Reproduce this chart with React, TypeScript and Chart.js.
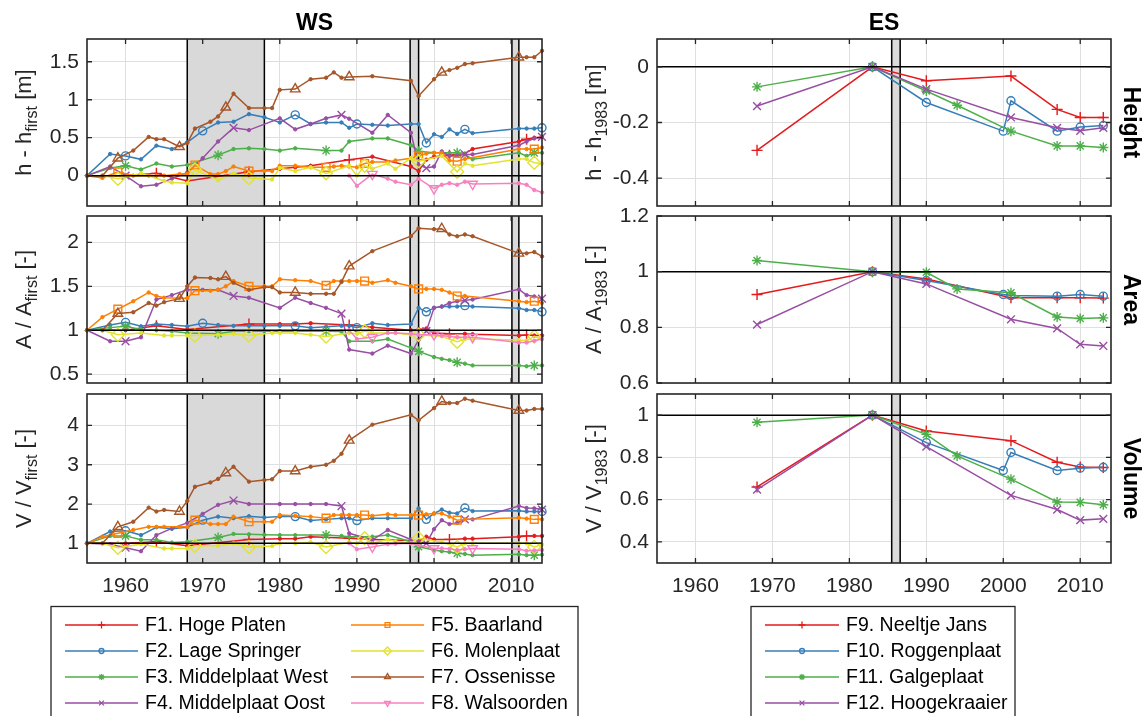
import React, { useEffect, useRef } from "react";
import { Chart, registerables } from "chart.js";
import { drawPoint } from "chart.js/helpers";

Chart.register(...registerables);

// ---------------- data ----------------
const X_TICKS = [1960, 1970, 1980, 1990, 2000, 2010];
const WS_BANDS = [[1968, 1978], [1996.9, 1998], [2010.1, 2011]];
const ES_BANDS = [[1985.5, 1986.6]];

const WS_NAMES = ["F1. Hoge Platen", "F2. Lage Springer", "F3. Middelplaat West", "F4. Middelplaat Oost", "F5. Baarland", "F6. Molenplaat", "F7. Ossenisse", "F8. Walsoorden"];
const ES_NAMES = ["F9. Neeltje Jans", "F10. Roggenplaat", "F11. Galgeplaat", "F12. Hoogekraaier"];

const F1_YEARS = [1955, 1960, 1964, 1968, 1976, 1980, 1982, 1984, 1989, 1992, 1997, 1998, 1999, 2000, 2002, 2004, 2005, 2011, 2012, 2013, 2014];
const F1_H = [0, 0.0, 0.03, -0.07, 0.05, 0.09, 0.11, 0.13, 0.21, 0.25, 0.12, 0.06, 0.21, 0.25, 0.27, 0.29, 0.35, 0.45, 0.48, 0.50, 0.51];
const F1_A = [1, 1.0, 1.05, 1.01, 1.07, 1.07, 1.07, 1.08, 1.06, 1.035, 1.0, 1.01, 1.02, 0.97, 0.96, 0.96, 0.955, 0.94, 0.945, 0.94, 0.94];
const F1_V = [1, 1.0, 1.04, 0.94, 1.10, 1.12, 1.12, 1.17, 1.13, 1.10, 1.07, 1.05, 1.17, 1.10, 1.10, 1.12, 1.12, 1.17, 1.19, 1.19, 1.19];
const F1_MARKS = [1964, 1976, 1989, 2002, 2012];

const F2_YEARS = [1955, 1958, 1960, 1962, 1964, 1966, 1968, 1970, 1972, 1974, 1976, 1978, 1980, 1982, 1984, 1986, 1988, 1989, 1990, 1992, 1994, 1997, 1998, 1999, 2000, 2001, 2002, 2003, 2004, 2005, 2011, 2012, 2013, 2014];
const F2_H = [0, 0.285, 0.26, 0.215, 0.395, 0.35, 0.44, 0.59, 0.70, 0.71, 0.81, 0.77, 0.70, 0.80, 0.68, 0.70, 0.70, 0.63, 0.68, 0.67, 0.66, 0.68, 0.68, 0.43, 0.545, 0.51, 0.61, 0.55, 0.61, 0.56, 0.62, 0.62, 0.62, 0.63];
const F2_A = [1, 1.06, 1.09, 1.045, 1.07, 1.06, 1.045, 1.08, 1.06, 1.05, 1.05, 1.05, 1.05, 1.05, 1.03, 1.04, 1.05, 1.05, 1.03, 1.08, 1.06, 1.07, 1.255, 1.21, 1.255, 1.27, 1.27, 1.27, 1.28, 1.27, 1.25, 1.23, 1.23, 1.21];
const F2_V = [1, 1.30, 1.32, 1.21, 1.41, 1.37, 1.41, 1.59, 1.68, 1.64, 1.69, 1.66, 1.68, 1.68, 1.58, 1.61, 1.64, 1.64, 1.58, 1.64, 1.64, 1.64, 1.89, 1.61, 1.76, 1.86, 1.78, 1.76, 1.90, 1.82, 1.83, 1.81, 1.81, 1.81];
const F2_MARKS = [1960, 1970, 1982, 1990, 1999, 2004, 2014];

const F3_YEARS = [1955, 1958, 1960, 1962, 1964, 1966, 1968, 1972, 1974, 1976, 1978, 1980, 1982, 1986, 1988, 1989, 1992, 1994, 1997, 1998, 2000, 2001, 2002, 2003, 2004, 2005, 2011, 2012, 2013, 2014];
const F3_H = [0, 0.10, 0.13, 0.08, 0.16, 0.12, 0.14, 0.27, 0.35, 0.36, 0.35, 0.33, 0.36, 0.33, 0.33, 0.45, 0.49, 0.49, 0.40, 0.32, 0.30, 0.30, 0.30, 0.30, 0.28, 0.215, 0.30, 0.26, 0.30, 0.30];
const F3_A = [1, 1.03, 1.045, 1.01, 1.0, 0.99, 0.97, 0.96, 0.99, 0.99, 0.99, 0.99, 0.99, 0.99, 0.985, 0.875, 0.875, 0.90, 0.80, 0.76, 0.695, 0.675, 0.66, 0.635, 0.62, 0.60, 0.60, 0.59, 0.60, 0.60];
const F3_V = [1, 1.19, 1.19, 1.09, 1.09, 1.02, 1.04, 1.15, 1.24, 1.23, 1.22, 1.21, 1.21, 1.21, 1.19, 1.17, 1.17, 1.21, 1.04, 0.915, 0.83, 0.80, 0.78, 0.75, 0.73, 0.70, 0.72, 0.70, 0.70, 0.71];
const F3_MARKS = [1960, 1972, 1986, 1998, 2003, 2013];

const F4_YEARS = [1955, 1958, 1960, 1962, 1964, 1966, 1968, 1970, 1972, 1974, 1976, 1980, 1982, 1984, 1986, 1988, 1989, 1992, 1994, 1997, 1998, 1999, 2000, 2001, 2002, 2003, 2004, 2005, 2011, 2012, 2013, 2014];
const F4_H = [0, 0.12, 0.0, -0.14, -0.12, -0.04, 0.04, 0.23, 0.45, 0.63, 0.60, 0.755, 0.61, 0.68, 0.755, 0.80, 0.75, 0.565, 0.80, 0.565, 0.14, 0.10, 0.12, 0.32, 0.26, 0.26, 0.28, 0.28, 0.40, 0.45, 0.49, 0.51];
const F4_A = [1, 0.875, 0.875, 0.92, 1.35, 1.40, 1.46, 1.46, 1.46, 1.39, 1.37, 1.255, 1.37, 1.31, 1.255, 1.19, 0.78, 0.735, 0.825, 0.735, 0.89, 0.99, 1.255, 1.27, 1.31, 1.33, 1.34, 1.35, 1.465, 1.40, 1.385, 1.36];
const F4_V = [1, 0.98, 0.89, 0.80, 1.21, 1.38, 1.52, 1.75, 1.98, 2.09, 2.0, 2.0, 2.0, 2.0, 2.0, 1.95, 1.255, 1.085, 1.34, 1.10, 1.05, 1.0, 1.36, 1.59, 1.49, 1.52, 1.61, 1.61, 1.95, 1.90, 1.89, 1.86];
const F4_MARKS = [1960, 1974, 1988, 1999, 2004, 2014];

const F5_YEARS = [1955, 1957, 1959, 1961, 1963, 1964, 1965, 1967, 1968, 1969, 1971, 1972, 1973, 1974, 1976, 1978, 1979, 1980, 1982, 1984, 1986, 1987, 1988, 1989, 1990, 1991, 1992, 1994, 1995, 1997, 1998, 1999, 2000, 2001, 2002, 2003, 2004, 2011, 2012, 2013, 2014];
const F5_H = [0, -0.03, 0.05, 0.0, 0.0, 0.0, 0.0, 0.02, 0.02, 0.14, 0.02, 0.02, 0.06, 0.12, 0.06, 0.06, 0.06, 0.13, 0.13, 0.11, 0.11, 0.12, 0.13, 0.12, 0.11, 0.16, 0.18, 0.18, 0.20, 0.23, 0.26, 0.29, 0.30, 0.30, 0.20, 0.19, 0.22, 0.35, 0.35, 0.35, 0.37];
const F5_A = [1, 1.15, 1.24, 1.33, 1.43, 1.39, 1.37, 1.365, 1.365, 1.45, 1.45, 1.46, 1.50, 1.56, 1.50, 1.50, 1.50, 1.58, 1.57, 1.56, 1.51, 1.56, 1.56, 1.56, 1.56, 1.56, 1.54, 1.57, 1.54, 1.50, 1.47, 1.47, 1.47, 1.46, 1.43, 1.39, 1.39, 1.33, 1.32, 1.33, 1.31];
const F5_V = [1, 1.17, 1.255, 1.34, 1.42, 1.42, 1.42, 1.42, 1.42, 1.59, 1.49, 1.49, 1.49, 1.68, 1.55, 1.55, 1.55, 1.72, 1.70, 1.68, 1.64, 1.72, 1.72, 1.72, 1.72, 1.72, 1.70, 1.74, 1.72, 1.72, 1.72, 1.74, 1.76, 1.76, 1.68, 1.59, 1.61, 1.65, 1.63, 1.61, 1.61];
const F5_MARKS = [1959, 1969, 1976, 1986, 1991, 1998, 2003, 2013];

const F6_YEARS = [1955, 1957, 1959, 1962, 1965, 1966, 1968, 1969, 1972, 1974, 1976, 1979, 1980, 1982, 1984, 1986, 1989, 1990, 1991, 1992, 1994, 1995, 1997, 1998, 2001, 2003, 2004, 2005, 2011, 2012, 2013, 2014];
const F6_H = [0, 0, -0.04, 0.03, -0.07, -0.09, -0.10, 0.08, -0.06, 0.03, -0.03, -0.05, 0.10, 0.06, 0.11, 0.03, 0.13, 0.0, 0.13, 0.09, 0.16, 0.09, 0.23, 0.19, 0.26, 0.05, 0.16, 0.13, 0.22, 0.22, 0.17, 0.16];
const F6_A = [1, 1.0, 0.95, 0.97, 0.94, 0.94, 0.94, 0.94, 0.95, 0.96, 0.94, 0.97, 0.97, 0.97, 0.95, 0.93, 0.97, 0.96, 0.99, 0.97, 0.97, 0.97, 0.95, 0.95, 0.93, 0.87, 0.90, 0.90, 0.89, 0.88, 0.93, 0.90];
const F6_V = [1, 1.0, 0.89, 0.98, 0.87, 0.87, 0.87, 0.94, 0.94, 1.0, 0.91, 0.93, 1.0, 1.0, 1.03, 0.91, 1.03, 1.0, 1.13, 1.0, 1.1, 1.05, 1.0, 1.13, 1.03, 0.91, 1.0, 1.0, 1.0, 1.0, 0.91, 0.97];
const F6_MARKS = [1959, 1969, 1976, 1986, 1991, 1998, 2003, 2013];

const F7_YEARS = [1955, 1957, 1959, 1961, 1963, 1964, 1965, 1967, 1968, 1969, 1971, 1972, 1973, 1974, 1976, 1978, 1979, 1980, 1982, 1984, 1986, 1987, 1988, 1989, 1992, 1997, 1998, 2000, 2001, 2002, 2003, 2004, 2005, 2011, 2012, 2013, 2014];
const F7_H = [0, 0, 0.23, 0.33, 0.51, 0.48, 0.48, 0.38, 0.43, 0.62, 0.71, 0.78, 0.90, 1.08, 0.89, 0.89, 0.89, 1.13, 1.14, 1.27, 1.29, 1.36, 1.29, 1.30, 1.31, 1.25, 1.05, 1.27, 1.36, 1.39, 1.42, 1.47, 1.48, 1.56, 1.56, 1.56, 1.645];
const F7_A = [1, 1.0, 1.19, 1.205, 1.31, 1.28, 1.32, 1.36, 1.50, 1.60, 1.595, 1.58, 1.61, 1.54, 1.46, 1.49, 1.49, 1.43, 1.43, 1.415, 1.415, 1.415, 1.55, 1.73, 1.90, 2.07, 2.16, 2.15, 2.155, 2.09, 2.07, 2.09, 2.07, 1.875, 1.875, 1.89, 1.84];
const F7_V = [1, 1.0, 1.42, 1.55, 1.91, 1.81, 1.85, 1.81, 2.08, 2.44, 2.55, 2.64, 2.79, 2.95, 2.57, 2.61, 2.63, 2.84, 2.84, 2.95, 3.0, 3.10, 3.28, 3.62, 4.02, 4.27, 4.13, 4.44, 4.61, 4.57, 4.57, 4.68, 4.63, 4.38, 4.38, 4.42, 4.42];
const F7_MARKS = [1959, 1967, 1973, 1982, 1989, 2001, 2011];

const F8_YEARS = [1989, 1990, 1992, 1994, 1995, 1997, 1998, 2000, 2001, 2002, 2003, 2004, 2005, 2011, 2012, 2013, 2014];
const F8_H = [0, -0.135, 0.02, -0.04, -0.08, -0.12, -0.04, -0.17, -0.12, -0.10, -0.12, -0.08, -0.11, -0.10, -0.12, -0.19, -0.22];
const F8_A = [1, 0.90, 0.92, 0.97, 0.97, 0.96, 0.95, 0.95, 0.94, 0.93, 0.92, 0.92, 0.92, 0.86, 0.86, 0.88, 0.90];
const F8_V = [1, 0.85, 0.91, 0.98, 0.99, 1.0, 0.95, 0.87, 0.87, 0.86, 0.83, 0.85, 0.87, 0.85, 0.81, 0.82, 0.83];
const F8_MARKS = [1992, 2000, 2005];

const F9_YEARS = [1968, 1983, 1990, 2001, 2007, 2010, 2013];
const F9_H = [-0.30, 0, -0.05, -0.033, -0.153, -0.182, -0.182];
const F9_A = [0.918, 1.0, 0.974, 0.906, 0.906, 0.906, 0.905];
const F9_V = [0.66, 1.0, 0.925, 0.879, 0.777, 0.754, 0.752];

const F10_YEARS = [1983, 1990, 2000, 2001, 2007, 2010, 2013];
const F10_H = [0, -0.128, -0.231, -0.122, -0.231, -0.216, -0.211];
const F10_A = [1.0, 0.968, 0.918, 0.914, 0.912, 0.918, 0.912];
const F10_V = [1.0, 0.87, 0.738, 0.823, 0.738, 0.749, 0.753];

const F11_YEARS = [1968, 1983, 1990, 1994, 2001, 2007, 2010, 2013];
const F11_H = [-0.072, 0, -0.087, -0.138, -0.231, -0.284, -0.284, -0.29];
const F11_A = [1.04, 1.0, 0.998, 0.938, 0.924, 0.837, 0.832, 0.834];
const F11_V = [0.966, 1.0, 0.909, 0.807, 0.697, 0.589, 0.587, 0.576];

const F12_YEARS = [1968, 1983, 1990, 2001, 2007, 2010, 2013];
const F12_H = [-0.141, 0, -0.080, -0.182, -0.219, -0.23, -0.219];
const F12_A = [0.81, 1.0, 0.956, 0.829, 0.796, 0.739, 0.733];
const F12_V = [0.647, 1.0, 0.851, 0.62, 0.553, 0.503, 0.509];

const Y_TICKS_WS_H = [0, 0.5, 1, 1.5];
const Y_TICKS_WS_A = [0.5, 1, 1.5, 2];
const Y_TICKS_WS_V = [1, 2, 3, 4];
const Y_TICKS_ES_H = [-0.4, -0.2, 0];
const Y_TICKS_ES_A = [0.6, 0.8, 1, 1.2];
const Y_TICKS_ES_V = [0.4, 0.6, 0.8, 1];

// ---------------- styling ----------------
const FONT = "'Liberation Sans', Arial, Helvetica, sans-serif";
const TICK_SIZE = 21;
const LABEL_SIZE = 22;
const LEGEND_SIZE = 19.5;
const BOLD_SIZE = 23;
const AX = "#262626";
const GRID = "#dfdfdf";
const COLORS = ["#e41a1c", "#377eb8", "#4daf4a", "#984ea3", "#ff7f00", "#e3e32e", "#a65628", "#f781bf"];
const STYLES = ["cross", "circle", "star", "crossRot", "rect", "rectRot", "triangle", "triangle"];
const ROTS = [0, 0, 0, 0, 0, 0, 0, 180];
const RADII: Record<string, number> = { cross: 5.5, circle: 4, star: 5, crossRot: 5.5, rect: 5.5, rectRot: 6.5, triangle: 5.5 };

type Series = { name: string; color: string; style: string; rot: number; years: number[]; h: number[]; a: number[]; v: number[]; marks: number[] };

const WS_SERIES: Series[] = [
  { name: WS_NAMES[0], color: COLORS[0], style: STYLES[0], rot: ROTS[0], years: F1_YEARS, h: F1_H, a: F1_A, v: F1_V, marks: F1_MARKS },
  { name: WS_NAMES[1], color: COLORS[1], style: STYLES[1], rot: ROTS[1], years: F2_YEARS, h: F2_H, a: F2_A, v: F2_V, marks: F2_MARKS },
  { name: WS_NAMES[2], color: COLORS[2], style: STYLES[2], rot: ROTS[2], years: F3_YEARS, h: F3_H, a: F3_A, v: F3_V, marks: F3_MARKS },
  { name: WS_NAMES[3], color: COLORS[3], style: STYLES[3], rot: ROTS[3], years: F4_YEARS, h: F4_H, a: F4_A, v: F4_V, marks: F4_MARKS },
  { name: WS_NAMES[4], color: COLORS[4], style: STYLES[4], rot: ROTS[4], years: F5_YEARS, h: F5_H, a: F5_A, v: F5_V, marks: F5_MARKS },
  { name: WS_NAMES[5], color: COLORS[5], style: STYLES[5], rot: ROTS[5], years: F6_YEARS, h: F6_H, a: F6_A, v: F6_V, marks: F6_MARKS },
  { name: WS_NAMES[6], color: COLORS[6], style: STYLES[6], rot: ROTS[6], years: F7_YEARS, h: F7_H, a: F7_A, v: F7_V, marks: F7_MARKS },
  { name: WS_NAMES[7], color: COLORS[7], style: STYLES[7], rot: ROTS[7], years: F8_YEARS, h: F8_H, a: F8_A, v: F8_V, marks: F8_MARKS },
];
const ES_SERIES: Series[] = [
  { name: ES_NAMES[0], color: COLORS[0], style: STYLES[0], rot: 0, years: F9_YEARS, h: F9_H, a: F9_A, v: F9_V, marks: F9_YEARS },
  { name: ES_NAMES[1], color: COLORS[1], style: STYLES[1], rot: 0, years: F10_YEARS, h: F10_H, a: F10_A, v: F10_V, marks: F10_YEARS },
  { name: ES_NAMES[2], color: COLORS[2], style: STYLES[2], rot: 0, years: F11_YEARS, h: F11_H, a: F11_A, v: F11_V, marks: F11_YEARS },
  { name: ES_NAMES[3], color: COLORS[3], style: STYLES[3], rot: 0, years: F12_YEARS, h: F12_H, a: F12_A, v: F12_V, marks: F12_YEARS },
];

type LegendDef = { x1: number; x2: number; y1: number; y2: number; colX: number[]; textOff: number; lineLen: number; rows: number[] };

type PanelDef = {
  cx: number; cy: number; cw: number; ch: number;
  pl: number; pt: number; pr: number; pb: number; xh: number;
  yMin: number; yMax: number; yTicks: number[];
  xLabels: boolean; refY: number; bands: number[][];
  series: Series[]; field: "h" | "a" | "v";
  ylab: string[]; ylabX: number;
  side?: string; title?: string; legend?: LegendDef;
};

const YW = 60;
const LX = 0, LW = 590, RX = 560, RW = 587;
const L_PL = 87, L_PR = 542, R_PL = 657, R_PR = 1111;
const ROWS = [
  { cy: 0, ch: 240, pt: 39, pb: 206, xh: 20 },
  { cy: 170, ch: 250, pt: 216, pb: 383, xh: 20 },
  { cy: 350, ch: 366, pt: 394, pb: 563, xh: 45 },
];
const LEG_ROWS = [625, 651, 677, 703];
const LEFT_LEGEND: LegendDef = { x1: 51, x2: 578, y1: 606.5, y2: 740, colX: [65, 351], textOff: 80, lineLen: 73, rows: LEG_ROWS };
const RIGHT_LEGEND: LegendDef = { x1: 751, x2: 1015, y1: 606.5, y2: 740, colX: [765], textOff: 81, lineLen: 74, rows: LEG_ROWS };

const PANELS: PanelDef[] = [
  { cx: LX, cw: LW, ...ROWS[0], pl: L_PL, pr: L_PR, yMin: -0.4, yMax: 1.8, yTicks: Y_TICKS_WS_H, xLabels: false, refY: 0, bands: WS_BANDS, series: WS_SERIES, field: "h", ylab: ["h - h", "first", " [m]"], ylabX: 31, title: "WS" },
  { cx: LX, cw: LW, ...ROWS[1], pl: L_PL, pr: L_PR, yMin: 0.4, yMax: 2.3, yTicks: Y_TICKS_WS_A, xLabels: false, refY: 1, bands: WS_BANDS, series: WS_SERIES, field: "a", ylab: ["A / A", "first", " [-]"], ylabX: 31 },
  { cx: LX, cw: LW, ...ROWS[2], pl: L_PL, pr: L_PR, yMin: 0.5, yMax: 4.8, yTicks: Y_TICKS_WS_V, xLabels: true, refY: 1, bands: WS_BANDS, series: WS_SERIES, field: "v", ylab: ["V / V", "first", " [-]"], ylabX: 31, legend: LEFT_LEGEND },
  { cx: RX, cw: RW, ...ROWS[0], pl: R_PL, pr: R_PR, yMin: -0.5, yMax: 0.1, yTicks: Y_TICKS_ES_H, xLabels: false, refY: 0, bands: ES_BANDS, series: ES_SERIES, field: "h", ylab: ["h - h", "1983", " [m]"], ylabX: 601, side: "Height", title: "ES" },
  { cx: RX, cw: RW, ...ROWS[1], pl: R_PL, pr: R_PR, yMin: 0.6, yMax: 1.2, yTicks: Y_TICKS_ES_A, xLabels: false, refY: 1, bands: ES_BANDS, series: ES_SERIES, field: "a", ylab: ["A / A", "1983", " [-]"], ylabX: 601, side: "Area" },
  { cx: RX, cw: RW, ...ROWS[2], pl: R_PL, pr: R_PR, yMin: 0.3, yMax: 1.1, yTicks: Y_TICKS_ES_V, xLabels: true, refY: 1, bands: ES_BANDS, series: ES_SERIES, field: "v", ylab: ["V / V", "1983", " [-]"], ylabX: 601, side: "Volume", legend: RIGHT_LEGEND },
];

function fmt(v: number) {
  return String(Math.round(v * 10) / 10);
}

function drawYLabel(ctx: CanvasRenderingContext2D, x: number, y: number, parts: string[]) {
  ctx.save();
  ctx.translate(x, y);
  ctx.rotate(-Math.PI / 2);
  const mainF = `${LABEL_SIZE}px ${FONT}`;
  const subF = `${Math.round(LABEL_SIZE * 0.72)}px ${FONT}`;
  ctx.font = mainF;
  const w0 = ctx.measureText(parts[0]).width;
  const w2 = ctx.measureText(parts[2]).width;
  ctx.font = subF;
  const w1 = ctx.measureText(parts[1]).width;
  let cx = -(w0 + w1 + w2) / 2;
  ctx.fillStyle = AX;
  ctx.textAlign = "left";
  ctx.textBaseline = "alphabetic";
  ctx.font = mainF;
  ctx.fillText(parts[0], cx, 0);
  cx += w0;
  ctx.font = subF;
  ctx.fillText(parts[1], cx, LABEL_SIZE * 0.28);
  cx += w1;
  ctx.font = mainF;
  ctx.fillText(parts[2], cx, 0);
  ctx.restore();
}

function makePlugin(p: PanelDef) {
  return {
    id: "deco",
    beforeDatasetsDraw(chart: any) {
      const { ctx, chartArea: a, scales } = chart;
      const x = scales.x;
      ctx.save();
      for (const [b0, b1] of p.bands) {
        const x0 = x.getPixelForValue(b0);
        const x1 = x.getPixelForValue(b1);
        ctx.fillStyle = "#d9d9d9";
        ctx.fillRect(x0, a.top, x1 - x0, a.bottom - a.top);
        ctx.strokeStyle = "#000";
        ctx.lineWidth = 1.5;
        ctx.beginPath();
        ctx.moveTo(x0, a.top);
        ctx.lineTo(x0, a.bottom);
        ctx.moveTo(x1, a.top);
        ctx.lineTo(x1, a.bottom);
        ctx.stroke();
      }
      ctx.restore();
    },
    afterDatasetsDraw(chart: any) {
      const { ctx, chartArea: a, scales } = chart;
      const x = scales.x, y = scales.y;
      ctx.save();
      const yr = y.getPixelForValue(p.refY);
      ctx.strokeStyle = "#000";
      ctx.lineWidth = 1.5;
      ctx.beginPath();
      ctx.moveTo(a.left, yr);
      ctx.lineTo(a.right, yr);
      ctx.stroke();
      ctx.strokeStyle = AX;
      ctx.lineWidth = 1.6;
      ctx.strokeRect(a.left, a.top, a.right - a.left, a.bottom - a.top);
      ctx.lineWidth = 1.3;
      ctx.beginPath();
      for (const t of x.ticks) {
        const px = x.getPixelForValue(t.value);
        ctx.moveTo(px, a.top);
        ctx.lineTo(px, a.top + 5);
        ctx.moveTo(px, a.bottom);
        ctx.lineTo(px, a.bottom - 5);
      }
      for (const t of y.ticks) {
        const py = y.getPixelForValue(t.value);
        ctx.moveTo(a.left, py);
        ctx.lineTo(a.left + 5, py);
        ctx.moveTo(a.right, py);
        ctx.lineTo(a.right - 5, py);
      }
      ctx.stroke();
      ctx.restore();
    },
    afterDraw(chart: any) {
      const { ctx } = chart;
      const ox = p.cx, oy = p.cy;
      const yc = (p.pt + p.pb) / 2 - oy;
      drawYLabel(ctx, p.ylabX - ox, yc, p.ylab);
      if (p.side) {
        ctx.save();
        ctx.translate(1124 - ox, yc);
        ctx.rotate(Math.PI / 2);
        ctx.font = `bold ${BOLD_SIZE}px ${FONT}`;
        ctx.fillStyle = "#000";
        ctx.textAlign = "center";
        ctx.textBaseline = "alphabetic";
        ctx.fillText(p.side, 0, 0);
        ctx.restore();
      }
      if (p.title) {
        ctx.save();
        ctx.font = `bold ${BOLD_SIZE}px ${FONT}`;
        ctx.fillStyle = "#000";
        ctx.textAlign = "center";
        ctx.textBaseline = "alphabetic";
        ctx.fillText(p.title, (p.pl + p.pr) / 2 - ox, 30 - oy);
        ctx.restore();
      }
      if (p.legend) {
        const L = p.legend;
        ctx.save();
        ctx.fillStyle = "#fff";
        ctx.fillRect(L.x1 - ox, L.y1 - oy, L.x2 - L.x1, L.y2 - L.y1);
        ctx.strokeStyle = AX;
        ctx.lineWidth = 1.3;
        ctx.strokeRect(L.x1 - ox, L.y1 - oy, L.x2 - L.x1, L.y2 - L.y1);
        p.series.forEach((s, i) => {
          const col = Math.floor(i / L.rows.length);
          const row = i % L.rows.length;
          const lx = L.colX[col] - ox;
          const ly = L.rows[row] - oy;
          ctx.strokeStyle = s.color;
          ctx.lineWidth = 1.5;
          ctx.beginPath();
          ctx.moveTo(lx, ly);
          ctx.lineTo(lx + L.lineLen, ly);
          ctx.stroke();
          ctx.fillStyle = "rgba(0,0,0,0)";
          ctx.lineWidth = 1.3;
          drawPoint(ctx, { pointStyle: s.style as any, rotation: s.rot, radius: RADII[s.style] * 0.62, borderWidth: 1.3 } as any, lx + L.lineLen / 2, ly);
          ctx.fillStyle = "#000";
          ctx.font = `${LEGEND_SIZE}px ${FONT}`;
          ctx.textAlign = "left";
          ctx.textBaseline = "middle";
          ctx.fillText(s.name, lx + L.textOff, ly + 1);
        });
        ctx.restore();
      }
    },
  };
}

function buildDatasets(p: PanelDef) {
  const n = p.series.length;
  return p.series.map((s, i) => {
    const vals = s[p.field];
    const isM = (c: any) => !!c.raw && s.marks.includes(c.raw.x);
    return {
      label: s.name,
      data: s.years.map((yr, k) => ({ x: yr, y: vals[k] })),
      borderColor: s.color,
      backgroundColor: s.color,
      borderWidth: 1.5,
      tension: 0,
      clip: false as any,
      order: n - i,
      pointStyle: (c: any) => (isM(c) ? s.style : "circle"),
      pointRadius: (c: any) => (isM(c) ? RADII[s.style] : 1.7),
      pointBackgroundColor: (c: any) => (isM(c) ? "rgba(0,0,0,0)" : s.color),
      pointBorderColor: s.color,
      pointBorderWidth: (c: any) => (isM(c) ? 1.4 : 1),
      pointRotation: s.rot,
    };
  });
}

function makeChart(canvas: HTMLCanvasElement, p: PanelDef) {
  const padL = p.pl - p.cx - YW;
  const padR = p.cx + p.cw - p.pr;
  const padT = p.pt - p.cy;
  const padB = p.cy + p.ch - p.pb - p.xh;
  return new Chart(canvas, {
    type: "line",
    data: { datasets: buildDatasets(p) as any },
    options: {
      animation: false,
      responsive: false,
      maintainAspectRatio: false,
      events: [],
      layout: { padding: { left: padL, right: padR, top: padT, bottom: padB } },
      plugins: { legend: { display: false }, tooltip: { enabled: false } },
      scales: {
        x: {
          type: "linear",
          min: 1955,
          max: 2014,
          afterBuildTicks: (s: any) => { s.ticks = X_TICKS.map((v) => ({ value: v })); },
          afterFit: (s: any) => { s.height = p.xh; },
          grid: { color: GRID, lineWidth: 1, drawTicks: false },
          border: { display: false },
          ticks: {
            display: p.xLabels,
            autoSkip: false,
            maxRotation: 0,
            padding: 11,
            color: AX,
            font: { family: FONT, size: TICK_SIZE },
            callback: (v: any) => String(v),
          },
        },
        y: {
          type: "linear",
          min: p.yMin,
          max: p.yMax,
          afterBuildTicks: (s: any) => { s.ticks = p.yTicks.map((v) => ({ value: v })); },
          afterFit: (s: any) => { s.width = YW; },
          grid: { color: GRID, lineWidth: 1, drawTicks: false },
          border: { display: false },
          ticks: {
            autoSkip: false,
            padding: 8,
            color: AX,
            font: { family: FONT, size: TICK_SIZE },
            callback: (v: any) => fmt(Number(v)),
          },
        },
      },
    },
    plugins: [makePlugin(p)],
  });
}

export default function App() {
  const refs = useRef<(HTMLCanvasElement | null)[]>([]);
  useEffect(() => {
    const charts = PANELS.map((p, i) => makeChart(refs.current[i] as HTMLCanvasElement, p));
    return () => charts.forEach((c) => c.destroy());
  }, []);
  return (
    <div style={{ position: "absolute", left: 0, top: 0, width: 1147, height: 716, background: "#fff", overflow: "hidden" }}>
      {PANELS.map((p, i) => (
        <canvas
          key={i}
          ref={(el) => { refs.current[i] = el; }}
          width={p.cw}
          height={p.ch}
          style={{ position: "absolute", left: p.cx, top: p.cy, width: p.cw, height: p.ch }}
        />
      ))}
    </div>
  );
}
